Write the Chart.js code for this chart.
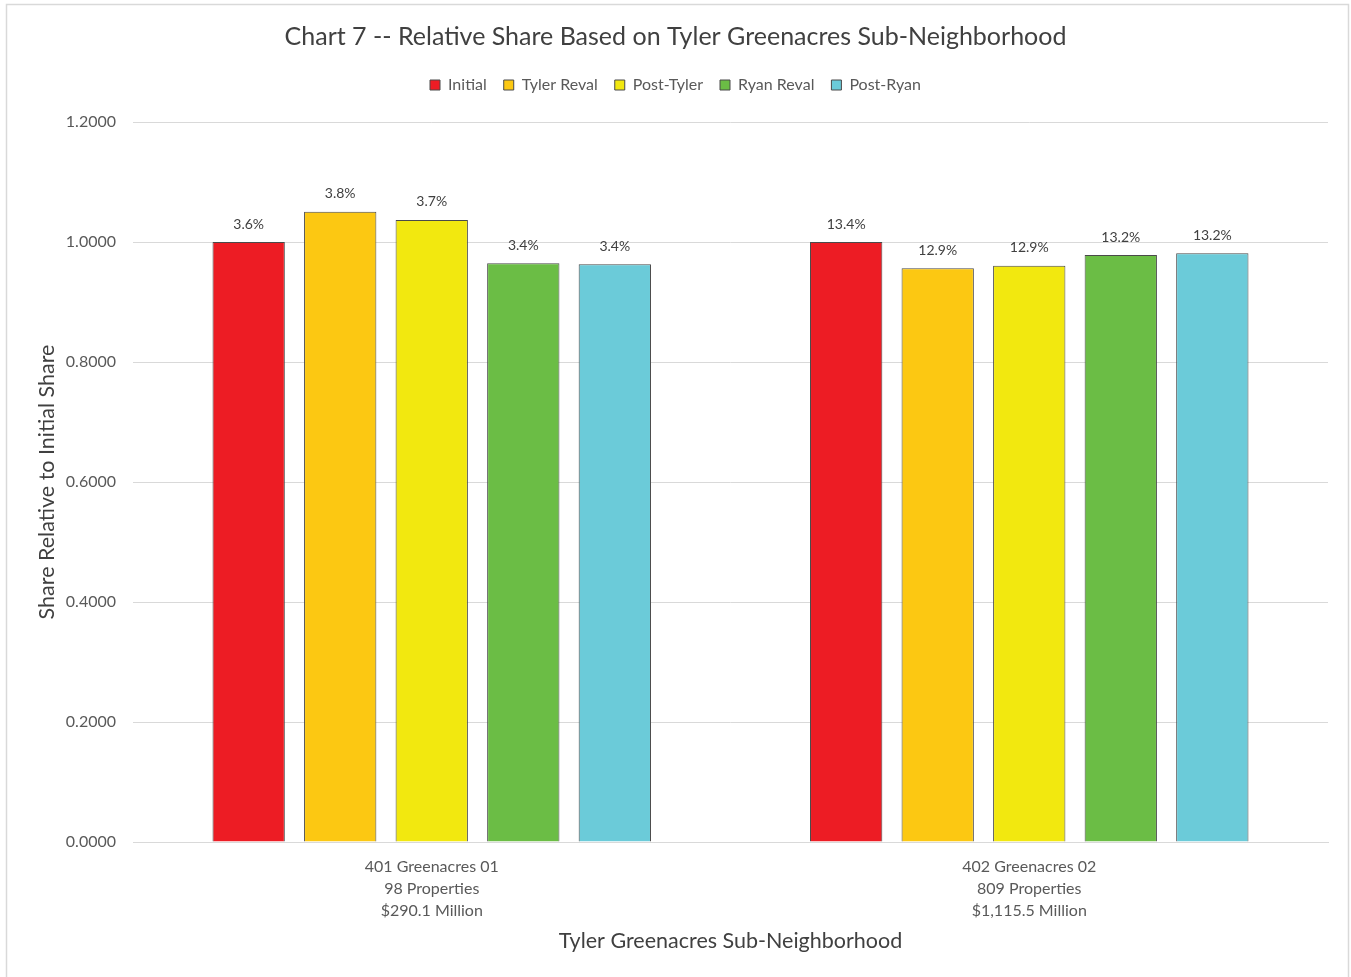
<!DOCTYPE html>
<html>
<head>
<meta charset="utf-8">
<script src="https://cdn.jsdelivr.net/npm/chart.js@4.4.1/dist/chart.umd.min.js"></script>
<style>
  html, body { margin: 0; padding: 0; background: #fff; }
  #wrap { width: 1351px; height: 977px; position: relative; }
</style>
</head>
<body>
<div id="wrap"><canvas id="chart7"></canvas></div>
<script>
// categories (multi-line x labels)
var categories = [
  ['401 Greenacres 01', '98 Properties', '$290.1 Million'],
  ['402 Greenacres 02', '809 Properties', '$1,115.5 Million']
];
var seriesNames = ['Initial', 'Tyler Reval', 'Post-Tyler', 'Ryan Reval', 'Post-Ryan'];
var seriesColors = ['#ED1C24', '#FCC812', '#F2E80F', '#6BBD45', '#6BCBD9'];

// relative share
var initial    = [1.0000, 1.0000];
var tylerReval = [1.0505, 0.9561];
var postTyler  = [1.0367, 0.9606];
var ryanReval  = [0.9645, 0.9783];
var postRyan   = [0.9628, 0.9811];

// share labels printed above bars
var initialLbl    = ['3.6%', '13.4%'];
var tylerRevalLbl = ['3.8%', '12.9%'];
var postTylerLbl  = ['3.7%', '12.9%'];
var ryanRevalLbl  = ['3.4%', '13.2%'];
var postRyanLbl   = ['3.4%', '13.2%'];

var seriesData = [initial, tylerReval, postTyler, ryanReval, postRyan];
var seriesLbls = [initialLbl, tylerRevalLbl, postTylerLbl, ryanRevalLbl, postRyanLbl];

var FONT = 'Lato, "Open Sans", sans-serif';

var datasets = [];
for (let i = 0; i < seriesNames.length; i++) {
  datasets.push({
    label: seriesNames[i],
    data: seriesData[i],
    shareLabels: seriesLbls[i],
    backgroundColor: seriesColors[i],
    borderColor: '#4a4a4a',
    borderWidth: 1,
    categoryPercentage: 0.766,
    barPercentage: 0.79
  });
}

// draws the % text above every bar
var barLabels = {
  id: 'barLabels',
  afterDatasetsDraw: function(chart) {
    var ctx = chart.ctx;
    ctx.save();
    ctx.font = '14px ' + FONT;
    ctx.fillStyle = '#404040';
    ctx.textAlign = 'center';
    ctx.textBaseline = 'middle';
    chart.data.datasets.forEach(function(ds, i) {
      chart.getDatasetMeta(i).data.forEach(function(bar, j) {
        ctx.fillText(ds.shareLabels[j], bar.x, bar.y - 18);
      });
    });
    ctx.restore();
  }
};

// light frame round the whole chart
var frame = {
  id: 'frame',
  beforeDraw: function(chart) {
    var ctx = chart.ctx;
    ctx.save();
    ctx.fillStyle = '#ffffff';
    ctx.fillRect(0, 0, chart.width, chart.height);
    ctx.strokeStyle = '#d9d9d9';
    ctx.lineWidth = 1.5;
    ctx.strokeRect(6.5, 4.5, 1342, 990);
    ctx.restore();
  }
};

// extra room under the legend
var legendGap = {
  id: 'legendGap',
  beforeInit: function(chart) {
    var lg = chart.legend;
    if (!lg) return;
    var origFit = lg.fit;
    lg.fit = function() {
      origFit.call(this);
      this.height += 19;
    };
  }
};

new Chart(document.getElementById('chart7'), {
  type: 'bar',
  data: {
    labels: categories,
    datasets: datasets
  },
  options: {
    responsive: true,
    maintainAspectRatio: false,
    animation: false,
    layout: { padding: 0 },
    plugins: {
      title: {
        display: true,
        text: 'Chart 7 -- Relative Share Based on Tyler Greenacres Sub-Neighborhood',
        color: '#404040',
        font: { family: FONT, size: 25, weight: 'normal' },
        padding: { top: 22, bottom: 8 }
      },
      legend: {
        display: true,
        labels: {
          boxWidth: 10,
          boxHeight: 10,
          padding: 17,
          color: '#595959',
          font: { family: FONT, size: 16 }
        }
      },
      tooltip: { enabled: false }
    },
    scales: {
      x: {
        grid: { display: false },
        border: { color: '#d9d9d9' },
        ticks: {
          color: '#595959',
          padding: 6,
          font: { family: FONT, size: 16, lineHeight: 1.375 }
        },
        title: {
          display: true,
          text: 'Tyler Greenacres Sub-Neighborhood',
          color: '#404040',
          font: { family: FONT, size: 21.5 },
          padding: { top: 0, bottom: 23 }
        },
        afterFit: function(s) { s.height = 135; }
      },
      y: {
        min: 0,
        max: 1.2,
        grid: { color: '#d9d9d9', drawTicks: false },
        border: { display: false },
        ticks: {
          stepSize: 0.2,
          padding: 17,
          color: '#595959',
          font: { family: FONT, size: 16 },
          callback: function(v) { return Number(v).toFixed(4); }
        },
        title: {
          display: true,
          text: 'Share Relative to Initial Share',
          color: '#404040',
          font: { family: FONT, size: 21.5 },
          padding: { top: 34, bottom: 0 }
        },
        afterFit: function(s) { s.width = 133; }
      },
      // empty right-hand strip so title/legend centre on the whole page
      yRight: {
        position: 'right',
        min: 0,
        max: 1.2,
        grid: { display: false },
        border: { display: false },
        ticks: { display: false },
        afterFit: function(s) { s.width = 23; }
      }
    }
  },
  plugins: [legendGap, frame, barLabels]
});
</script>
</body>
</html>
